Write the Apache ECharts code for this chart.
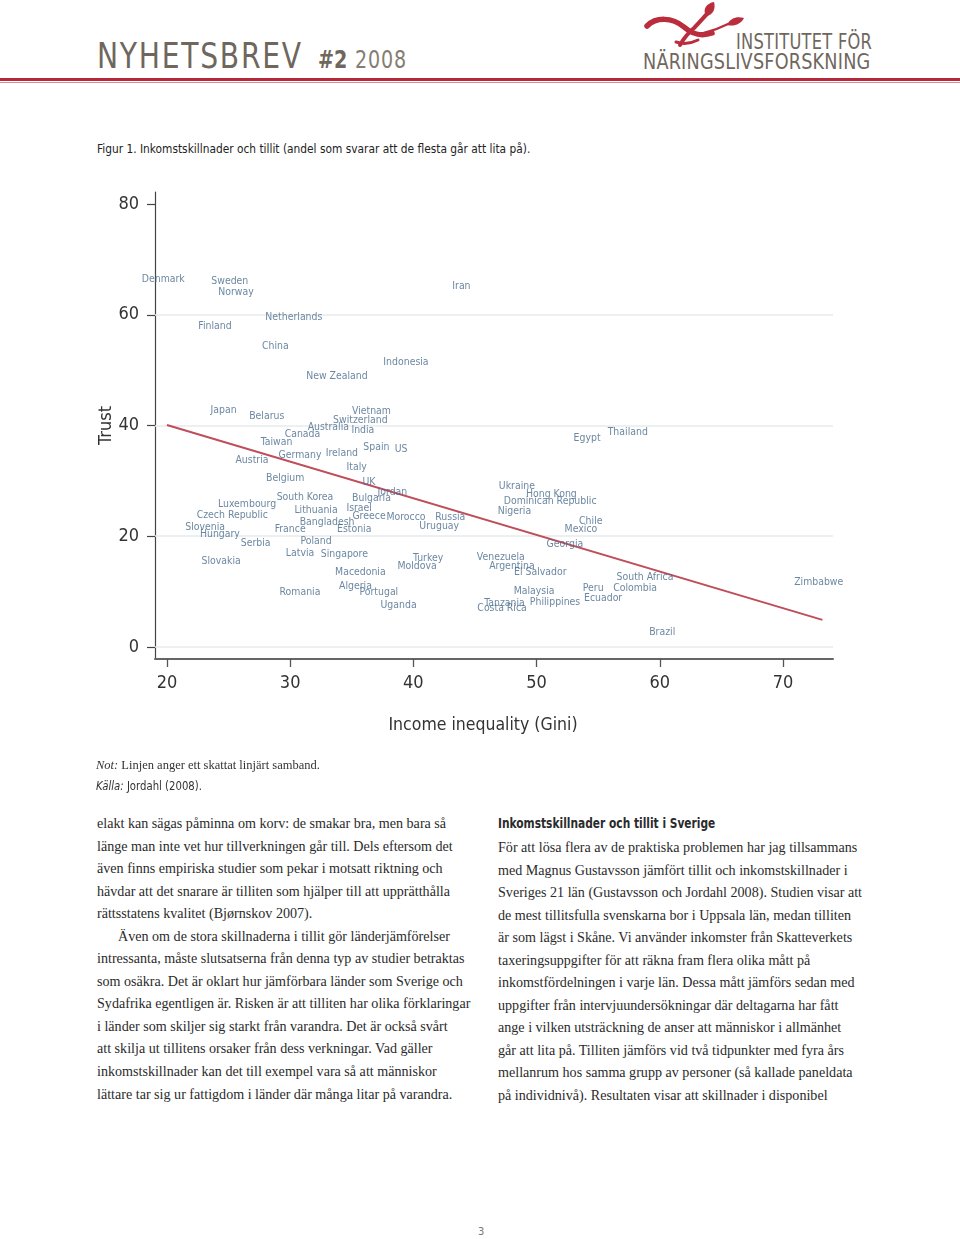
<!DOCTYPE html>
<html>
<head>
<meta charset="utf-8">
<script src="https://cdn.jsdelivr.net/npm/echarts@6/dist/echarts.min.js"></script>
<style>
  html, body { margin: 0; padding: 0; background: #fff; }
  #page { position: relative; width: 960px; height: 1239px; overflow: hidden; background: #fff; }
  .abs { position: absolute; white-space: nowrap; transform-origin: 0 0; }
  .narrow { font-family: "Liberation Sans Narrow", "DejaVu Sans Condensed", sans-serif; }
  .serif { font-family: "Liberation Serif", "DejaVu Serif", serif; }
  #chart { position: absolute; left: 0; top: 160px; width: 960px; height: 600px; }
  .col { position: absolute; font-size: 14.1px; line-height: 22.55px; color: #2b2b2b; }
  .col div { white-space: nowrap; }
</style>
</head>
<body>
<div id="page">
  <!-- header -->
  <div class="abs narrow" style="left:97px; top:35px; font-size:36px; letter-spacing:2px; color:#6f675d; transform:scaleX(0.87);">NYHETSBREV</div>
  <div class="abs narrow" style="left:318px; top:45px; font-size:25px; color:#6f675d; transform:scaleX(0.85);"><b>#2</b></div>
  <div class="abs narrow" style="left:355px; top:45px; font-size:25px; color:#857d73; letter-spacing:1px; transform:scaleX(0.85);">2008</div>

  <svg class="abs" style="left:0; top:0;" width="960" height="100" viewBox="0 0 960 100">
    <g fill="none" stroke="#b92d3d" stroke-linecap="round" stroke-linejoin="round">
      <path d="M647 26 C 656 17, 672 17, 684 27 C 692 34, 700 37, 712 33" stroke-width="5.5"/>
      <path d="M680 45 C 684 38, 688 33, 694 28 C 700 22, 704 17, 707 14" stroke-width="4"/>
      <path d="M676 42 C 682 44, 690 44, 698 40" stroke-width="3"/>
      <path d="M704 33 C 712 31, 720 28, 728 24" stroke-width="2.5"/>
    </g>
    <g fill="#b92d3d">
      <path d="M706 16 C 702 9, 707 3, 714 2 C 716 9, 713 15, 706 16 Z"/>
      <path d="M727 25 C 730 18, 737 16, 744 18 C 741 24, 734 27, 727 25 Z"/>
    </g>
    <rect x="0" y="78" width="960" height="3" fill="#b5293b"/>
    <rect x="0" y="82" width="960" height="1" fill="#d88c95"/>
  </svg>
  <div class="abs narrow" style="left:736px; top:30px; font-size:21px; color:#6f675d; letter-spacing:0.3px; transform:scaleX(0.86);">INSTITUTET FÖR</div>
  <div class="abs narrow" style="left:643px; top:50px; font-size:21px; color:#6f675d; letter-spacing:0.2px; transform:scaleX(0.935);">NÄRINGSLIVSFORSKNING</div>

  <div class="abs narrow" style="left:97px; top:141px; font-size:12.5px; color:#222; transform:scaleX(0.945);">Figur 1. Inkomstskillnader och tillit (andel som svarar att de flesta går att lita på).</div>

  <div id="chart"></div>

  <div class="abs serif" style="left:96px; top:758px; font-size:12.5px; color:#333;"><i>Not:</i> Linjen anger ett skattat linjärt samband.</div>
  <div class="abs narrow" style="left:96px; top:778px; font-size:12.5px; color:#333; transform:scaleX(0.9);"><i>Källa:</i> Jordahl (2008).</div>

  <div class="col serif" style="left:97px; top:812px;">
    <div>elakt kan sägas påminna om korv: de smakar bra, men bara så</div>
    <div>länge man inte vet hur tillverkningen går till. Dels eftersom det</div>
    <div>även finns empiriska studier som pekar i motsatt riktning och</div>
    <div>hävdar att det snarare är tilliten som hjälper till att upprätthålla</div>
    <div>rättsstatens kvalitet (Bjørnskov 2007).</div>
    <div style="padding-left:21px;">Även om de stora skillnaderna i tillit gör länderjämförelser</div>
    <div>intressanta, måste slutsatserna från denna typ av studier betraktas</div>
    <div>som osäkra. Det är oklart hur jämförbara länder som Sverige och</div>
    <div>Sydafrika egentligen är. Risken är att tilliten har olika förklaringar</div>
    <div>i länder som skiljer sig starkt från varandra. Det är också svårt</div>
    <div>att skilja ut tillitens orsaker från dess verkningar. Vad gäller</div>
    <div>inkomstskillnader kan det till exempel vara så att människor</div>
    <div>lättare tar sig ur fattigdom i länder där många litar på varandra.</div>
  </div>

  <div class="abs narrow" style="left:498px; top:815px; font-size:14px; font-weight:bold; color:#2b2b2b; transform:scaleX(0.845);">Inkomstskillnader och tillit i Sverige</div>
  <div class="col serif" style="left:498px; top:836px;">
    <div>För att lösa flera av de praktiska problemen har jag tillsammans</div>
    <div>med Magnus Gustavsson jämfört tillit och inkomstskillnader i</div>
    <div>Sveriges 21 län (Gustavsson och Jordahl 2008). Studien visar att</div>
    <div>de mest tillitsfulla svenskarna bor i Uppsala län, medan tilliten</div>
    <div>är som lägst i Skåne. Vi använder inkomster från Skatteverkets</div>
    <div>taxeringsuppgifter för att räkna fram flera olika mått på</div>
    <div>inkomstfördelningen i varje län. Dessa mått jämförs sedan med</div>
    <div>uppgifter från intervjuundersökningar där deltagarna har fått</div>
    <div>ange i vilken utsträckning de anser att människor i allmänhet</div>
    <div>går att lita på. Tilliten jämförs vid två tidpunkter med fyra års</div>
    <div>mellanrum hos samma grupp av personer (så kallade paneldata</div>
    <div>på individnivå). Resultaten visar att skillnader i disponibel</div>
  </div>

  <div class="abs narrow" style="left:478px; top:1225px; font-size:11px; color:#777;">3</div>
</div>

<script>
// ---- data ----
var countries = ["Denmark","Sweden","Norway","Iran","Netherlands","Finland","China","Indonesia","New Zealand",
  "Egypt","Thailand","US","Japan","Belarus","Vietnam","Switzerland","Australia","India","Canada","Taiwan",
  "Spain","Germany","Ireland","Austria","Italy","Belgium","UK","Jordan","South Korea","Bulgaria",
  "Luxembourg","Lithuania","Israel","Czech Republic","Greece","Morocco","Russia","Bangladesh","Uruguay","Slovenia",
  "Hungary","France","Estonia","Serbia","Poland","Latvia","Singapore","Slovakia","Turkey","Moldova",
  "Macedonia","Algeria","Portugal","Romania","Uganda","Ukraine","Hong Kong","Dominican Republic","Nigeria","Chile",
  "Mexico","Georgia","Venezuela","Argentina","El Salvador","South Africa","Colombia","Peru","Zimbabwe","Malaysia",
  "Ecuador","Philippines","Tanzania","Costa Rica","Brazil"];
var gini = [19.7,25.1,25.6,43.9,30.3,23.9,28.8,39.4,33.8,
  54.1,57.4,39.0,24.6,28.1,36.6,35.7,33.1,35.9,31.0,28.9,
  37.0,30.8,34.2,26.9,35.4,29.6,36.4,38.3,31.2,36.6,
  26.5,32.1,35.6,25.3,36.4,39.4,43.0,33.0,42.1,23.1,
  24.3,30.0,35.2,27.2,32.1,30.8,34.4,24.4,41.2,40.3,
  35.7,35.3,37.2,30.8,38.8,48.4,51.2,51.1,48.2,54.4,
  53.6,52.3,47.1,48.0,50.3,58.8,58.0,54.6,72.9,49.8,
  55.4,51.5,47.4,47.2,60.2];
var trust = [66.4,66.1,64.1,65.2,59.6,57.9,54.3,51.4,48.9,
  37.7,38.8,35.7,42.8,41.7,42.6,41.0,39.7,39.2,38.4,37.0,
  36.1,34.7,35.0,33.8,32.5,30.5,29.8,28.0,27.1,26.9,
  25.8,24.7,25.1,23.8,23.6,23.5,23.5,22.6,21.8,21.7,
  20.4,21.3,21.3,18.8,19.0,17.0,16.8,15.5,16.1,14.6,
  13.4,11.0,9.9,9.9,7.6,29.1,27.6,26.4,24.5,22.7,
  21.3,18.6,16.2,14.6,13.5,12.5,10.6,10.6,11.7,10.1,
  8.8,8.1,7.9,6.9,2.7];
var fitX = [20, 73.2];
var fitY = [40.1, 4.9];
var xTicks = [20, 30, 40, 50, 60, 70];
var yTicks = [0, 20, 40, 60, 80];
var gridYs = [0, 20, 40, 60];

// ---- chart ----
var NARROW = '"Liberation Sans Narrow", "DejaVu Sans Condensed", sans-serif';
var chart = echarts.init(document.getElementById('chart'), null, {renderer: 'canvas'});
var points = countries.map(function (c, i) { return {name: c, value: [gini[i], trust[i]]}; });
var fit = fitX.map(function (x, i) { return [x, fitY[i]]; });

chart.setOption({
  animation: false,
  grid: {left: 155, right: 127, top: 32, bottom: 101},
  xAxis: {
    type: 'value', min: 19.03, max: 74.06,
    axisLine: {show: true, onZero: false, lineStyle: {color: '#666', width: 2}},
    axisTick: {show: true, customValues: xTicks, length: 8, lineStyle: {color: '#555', width: 1.3}},
    axisLabel: {customValues: xTicks, fontSize: 18, color: '#333', margin: 15, fontFamily: NARROW},
    splitLine: {show: false},
    name: 'Income inequality (Gini)', nameLocation: 'middle', nameGap: 57, nameMoveOverlap: false,
    nameTextStyle: {fontSize: 17.5, color: '#333', fontFamily: NARROW, padding: [0, 22, 0, 0]}
  },
  yAxis: {
    type: 'value', min: -2.17, max: 82.17,
    axisLine: {show: true, onZero: false, lineStyle: {color: '#444', width: 1.2}},
    axisTick: {show: true, customValues: yTicks, length: 8, lineStyle: {color: '#444', width: 1.2}},
    axisLabel: {customValues: yTicks, fontSize: 18, color: '#333', margin: 16, fontFamily: NARROW},
    splitLine: {show: false},
    name: 'Trust', nameLocation: 'middle', nameGap: 40, nameRotate: 90, nameMoveOverlap: false,
    nameTextStyle: {fontSize: 18, color: '#333', fontFamily: NARROW}
  },
  series: [
    {
      type: 'line', data: fit, symbol: 'none', z: 2, silent: true,
      lineStyle: {color: '#bf4e5a', width: 2},
      markLine: {
        silent: true, symbol: 'none', label: {show: false}, z: 1,
        lineStyle: {color: '#e6ebed', width: 1.6, type: 'solid'},
        data: gridYs.map(function (v) { return {yAxis: v}; })
      }
    },
    {
      type: 'scatter', data: points, symbolSize: 1, z: 3,
      itemStyle: {color: 'rgba(0,0,0,0)'},
      label: {show: true, position: 'inside', formatter: '{b}', color: '#46698a',
              fontSize: 10.4, fontFamily: NARROW}
    }
  ]
});
</script>
</body>
</html>
